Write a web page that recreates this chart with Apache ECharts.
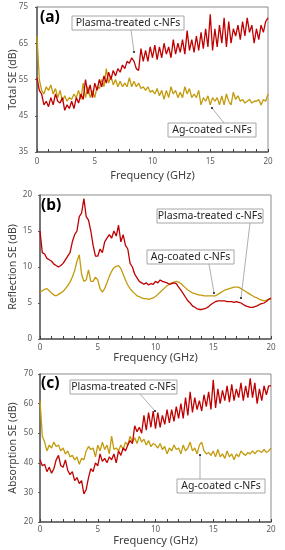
<!DOCTYPE html>
<html><head><meta charset="utf-8">
<script src="https://cdn.jsdelivr.net/npm/echarts@6/dist/echarts.min.js"></script>
<style>html,body{margin:0;padding:0;background:#fff}#c{width:285px;height:550px}</style>
</head><body><div id="c"></div>
<script>
// Frequency grid (GHz), step 0.2
var freq = [];
for (var i = 0; i <= 100; i++) freq.push(+(i * 0.2).toFixed(1));

var totalPlasma = [55.5,52,51,48,49,47.5,50,48,51,49,48.5,50,46.5,48,47,49,47,50,48.5,51,49.5,55,51,53.5,50,54,52,55,53,56,54,57,55,57.5,56,58,57,59,58,60,59.5,61,60,58,57.5,63.5,60,63,60,64,61,64.5,60.5,64,61,65,62,64,61,66,62,65,62.5,66,62,68.5,63,66,62.5,67,63,68,63.5,69,64,73,63,69,64,70,65,72,64,71,65,69,67,70,66,71,67,72,68,70,65,69,66,70,68,71,72];
var totalAg = [67,55,52,51,53,52,53.5,51,52.5,50,52,49,50.5,49,50,49.5,51,50,52,49.5,54,50,53,50,52,50,53,52.5,55,53,58,54,56,53.5,55,53,54.5,53,54,53,55.5,53,54.5,53,54,52.5,53,52,53,51.5,52,51,52.5,50.5,52,49.5,52,50,53,51,52,50,51.5,50,53,51,52.5,50,51,50,52,48,50,49,50.5,48,50,49,50,48,50.5,48,51,49,48,51.5,49.5,50.5,49,49.5,48.5,49,49.5,48.5,49,49,49.5,48,49.5,49,51];

var reflPlasma = [15,12,11.8,11.2,11,10.8,10.4,10.2,10,10.2,10.5,11,11.5,12,13.5,14.5,15,17,17.5,19.5,17,16.5,15,13,11.5,11.5,12.5,12,13.5,14,14.5,14,15,14.3,15.8,13.5,14.5,13,12.5,10.5,10,9,8.5,8,7.8,7.6,7.8,7.5,7.7,7.6,8,7.8,8.2,8,7.9,7.8,7.6,7.7,7.8,7.7,7.2,6.8,6.3,5.8,5.3,5,4.6,4.4,4.2,4.1,4.1,4.2,4.3,4.5,4.8,5,5.2,5.3,5.3,5.3,5.3,5.2,5.2,5.2,5.1,5.2,5.1,5,4.8,4.6,4.5,4.4,4.4,4.5,4.6,4.8,4.9,5,5.2,5.5,5.7];
var reflAg = [6.5,6.7,6.9,7,6.7,6.4,6.1,6,6.2,6.4,6.6,7,7.4,7.9,8.6,9.5,10.8,11.7,9,8,8.2,9.6,8,8,8.6,8.2,7,6.5,7,7.8,8.7,9.4,9.9,10.1,10.2,9.8,9,8.2,7.5,7,6.6,6.3,6,5.9,5.7,5.6,5.6,5.5,5.6,5.7,5.9,6.2,6.5,6.8,7.1,7.4,7.6,7.8,7.9,8,7.9,7.7,7.4,7.1,6.8,6.6,6.4,6.3,6.2,6.1,6.1,6,6,6,6,6,6,6.2,6.4,6.6,6.8,6.9,7,7.1,7.2,7.2,7.2,7,6.8,6.6,6.4,6.2,6,5.8,5.7,5.5,5.4,5.3,5.4,5.5,5.5];

var absPlasma = [41,39,39.5,37,38.5,36.5,38,41,42.5,39,38.5,41,37.5,36,37,34,35,33,34,29.5,31,35,38,37,40,39,43,40.5,41.5,40,42,41,43,40,44,42.5,45,44,46,47.5,46.5,52.5,50.5,52,50,56,51,57,52,57.5,51.5,57,52,56,53,58,53.5,58,54,59,55,60,55,62,56,64,57,62,58,61,57.5,63,59,64,58,68,58.5,65,60,64.5,61,66,60.5,66.5,61,65,62,67,61,66,62,68.5,62,67,60,65,61,66,63,66,66];
var absAg = [61,49,47,44,46,45,47,45.5,46,44,45,43,44,42,42.5,41,42,39.5,41.5,41,44,45.5,44.5,45,42,46,44,47,44.5,46,43,49,44.5,45,44,46,44.5,47,46,49,47,48.5,46.5,49,47,48,46,47.5,45.5,46.5,46,45,46.5,44.5,45.5,43,45,44,46,44.5,45,43,46,44,45,47,44,45,43,46,47,44,43,43.5,42.5,44,42,44.5,42,43,41.5,44,42,43,41,43,42,44,43,42.5,43.5,43,44,43,44,44,43.5,44.5,43.5,44,45];

var panels = [
  {tag:'(a)', yName:'Total SE (dB)', yMin:35, yMax:75, yInt:10, plasma:totalPlasma, ag:totalAg},
  {tag:'(b)', yName:'Reflection SE (dB)', yMin:0, yMax:20, yInt:5, plasma:reflPlasma, ag:reflAg},
  {tag:'(c)', yName:'Absorption SE (dB)', yMin:20, yMax:70, yInt:10, plasma:absPlasma, ag:absAg}
];
var RED = '#c00000', GOLD = '#c29a0c';
function pairs(v){ return freq.map(function(f,i){ return [f, v[i]]; }); }

var grids = [
  {left:37, right:17, top:7, height:145},
  {left:40, right:14, top:195, height:144},
  {left:40, right:14, top:374, height:148}
];
var xNameGap = [18, 13, 13], yNameGap = [18, 21, 21], xLabelMargin = [6, 5, 4], yLabelMargin = [9, 8, 7];
var chart = echarts.init(document.getElementById('c'), null, {renderer:'canvas'});
var option = {
  animation:false,
  backgroundColor:'#fff',
  textStyle:{fontFamily:'Noto Sans'},
  grid: grids.map(function(g){ return Object.assign({show:true, containLabel:false, outerBoundsMode:'none', borderColor:'#8c8c8c', borderWidth:1, backgroundColor:'transparent'}, g); }),
  xAxis: panels.map(function(p,k){ return {
    gridIndex:k, type:'value', min:0, max:20, interval:5,
    name:'Frequency (GHz)', nameLocation:'middle', nameGap:xNameGap[k], nameMoveOverlap:false,
    nameTextStyle:{fontSize:11, color:'#404040', fontFamily:'Noto Sans', verticalAlign:'top'},
    axisLine:{show:true, lineStyle:{color:'#595959', width:1.5}},
    axisTick:{show:true, inside:true, length:3, lineStyle:{color:'#404040'}},
    minorTick:{show:true, splitNumber:5, length:3, lineStyle:{color:'#404040'}},
    axisLabel:{fontSize:8, color:'#595959', margin:xLabelMargin[k]},
    splitLine:{show:false}
  };}),
  yAxis: panels.map(function(p,k){ return {
    gridIndex:k, type:'value', min:p.yMin, max:p.yMax, interval:p.yInt,
    name:p.yName, nameLocation:'middle', nameGap:yNameGap[k], nameRotate:90, nameMoveOverlap:false,
    nameTextStyle:{fontSize:10.5, color:'#404040', fontFamily:'Noto Sans', verticalAlign:'bottom'},
    axisLine:{show:true, lineStyle:{color:'#595959', width:1.5}},
    axisTick:{show:true, inside:false, length:2, lineStyle:{color:'#595959'}},
    axisLabel:{fontSize:8, color:'#595959', margin:yLabelMargin[k]},
    splitLine:{show:false}
  };}),
  series: []
};
panels.forEach(function(p,k){
  option.series.push({type:'line', xAxisIndex:k, yAxisIndex:k, data:pairs(p.ag), showSymbol:false, lineStyle:{color:GOLD, width:1.3}, itemStyle:{color:GOLD}, z:2});
  option.series.push({type:'line', xAxisIndex:k, yAxisIndex:k, data:pairs(p.plasma), showSymbol:false, lineStyle:{color:RED, width:1.3}, itemStyle:{color:RED}, z:3});
});

// annotation boxes: [x, y, w, h] in px, leader start and end
var notes = [
  {text:'Plasma-treated c-NFs', box:[72,16,112,14], from:[131,30], to:[134,52]},
  {text:'Ag-coated c-NFs', box:[168,123,88,14], from:[224,123], to:[212,108]},
  {text:'Plasma-treated c-NFs', box:[157,209,106,14], from:[250,223], to:[241,298]},
  {text:'Ag-coated c-NFs', box:[147,250,87,14], from:[209,264], to:[214,293]},
  {text:'Plasma-treated c-NFs', box:[70,380,107,14], from:[140,394], to:[155,411]},
  {text:'Ag-coated c-NFs', box:[177,479,88,14], from:[200,479], to:[200,455]}
];
var gfx = [];
notes.forEach(function(n){
  gfx.push({type:'line', z:10, shape:{x1:n.from[0], y1:n.from[1], x2:n.to[0], y2:n.to[1]}, style:{stroke:'#9a9a9a', lineWidth:0.8}});
  gfx.push({type:'circle', z:11, shape:{cx:n.to[0], cy:n.to[1], r:1.1}, style:{fill:'#222'}});
  gfx.push({type:'rect', z:12, shape:{x:n.box[0], y:n.box[1], width:n.box[2], height:n.box[3]}, style:{fill:'#fff', stroke:'#a6a6a6', lineWidth:1}});
  gfx.push({type:'text', z:13, x:n.box[0]+n.box[2]/2, y:n.box[1]+n.box[3]/2+0.5, style:{text:n.text, fill:'#262626', font:'10.5px "Noto Sans"', align:'center', verticalAlign:'middle'}});
});
var tagPos = [[40,18],[41,206],[41,384]];
panels.forEach(function(p,k){
  gfx.push({type:'text', z:13, x:tagPos[k][0], y:tagPos[k][1], style:{text:p.tag, fill:'#000', font:'bold 15.5px "Noto Sans"', verticalAlign:'middle'}});
});
option.graphic = gfx;
chart.setOption(option);
</script></body></html>
